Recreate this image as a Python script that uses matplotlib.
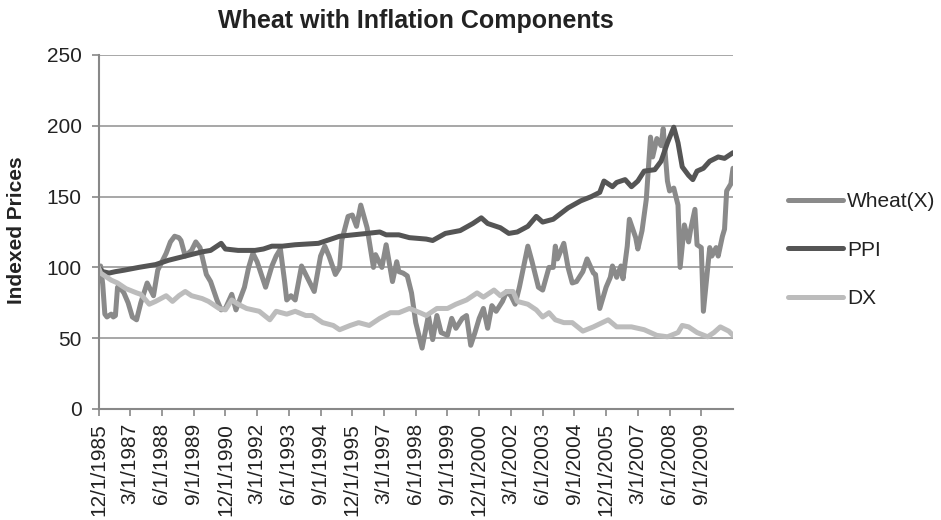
import pandas as pd
import matplotlib
matplotlib.use('Agg')
import matplotlib.pyplot as plt

# months counted from Dec 1985 (0) to Dec 2010 (300)
wheat_m = [0, 1, 2, 3, 4, 6, 7, 8, 9, 11, 12, 14, 16, 18, 20, 23, 26, 28, 30, 32,
           34, 36, 38, 39, 41, 44, 46, 48, 51, 53, 56, 58, 60, 63, 65, 67, 69, 71, 73, 75,
           77, 79, 82, 84, 86, 88, 89, 91, 93, 96, 99, 102, 105, 107, 109, 112, 114, 115, 118, 120,
           122, 124, 127, 130, 131, 134, 136, 139, 141, 142, 144, 146, 148, 150, 152, 153, 156, 158, 160, 162,
           165, 167, 169, 172, 174, 176, 178, 180, 182, 184, 186, 188, 191, 193, 195, 197, 199, 202, 203, 205,
           208, 210, 213, 215, 216, 217, 220, 222, 224, 226, 229, 231, 234, 235, 237, 240, 242, 243, 245, 247,
           248, 250, 251, 254, 255, 257, 259, 261, 262, 264, 266, 267, 269, 270, 272, 274, 275, 277, 279, 280,
           282, 283, 285, 286, 289, 290, 292, 293, 295, 296, 297, 299, 300]
wheat_v = [100, 101, 88, 67, 65, 67, 65, 66, 86, 84, 82, 75, 65, 63, 75, 89, 80, 98, 104, 110,
           118, 122, 121, 119, 108, 112, 118, 114, 95, 90, 77, 70, 71, 81, 70, 78, 86, 100, 110, 104,
           95, 86, 101, 108, 113, 90, 77, 80, 77, 101, 92, 83, 108, 115, 108, 95, 100, 119, 136, 137,
           129, 144, 128, 100, 109, 100, 116, 90, 104, 97, 96, 94, 82, 61, 49, 43, 66, 49, 66, 54,
           52, 64, 57, 64, 66, 45, 54, 64, 71, 57, 73, 69, 76, 83, 80, 74, 86, 108, 115, 104,
           86, 84, 100, 100, 115, 106, 117, 100, 89, 90, 97, 106, 96, 95, 71, 86, 93, 101, 93, 101,
           92, 115, 134, 121, 113, 126, 148, 192, 178, 191, 186, 198, 161, 154, 156, 144, 100, 130, 118, 127,
           141, 116, 114, 69, 114, 108, 114, 108, 122, 127, 154, 159, 170]

ppi_m = [0, 2, 5, 8, 12, 19, 27, 33, 41, 49, 53, 58, 60, 66, 74, 78, 82, 87, 93, 104,
         114, 127, 133, 136, 142, 147, 155, 158, 164, 171, 177, 181, 184, 190, 194, 198, 203, 207, 210, 215,
         222, 228, 233, 237, 239, 243, 245, 249, 252, 255, 258, 263, 266, 269, 272, 274, 276, 279, 281, 283,
         286, 289, 293, 296, 300]
ppi_v = [100, 97, 96, 97, 98, 100, 102, 105, 108, 111, 112, 117, 113, 112, 112, 113, 115, 115, 116, 117,
         122, 124, 125, 123, 123, 121, 120, 119, 124, 126, 131, 135, 131, 128, 124, 125, 129, 136, 132, 134,
         142, 147, 150, 153, 161, 157, 160, 162, 157, 161, 168, 169, 175, 188, 199, 188, 171, 165, 162, 168,
         170, 175, 178, 177, 181]

dx_m = [0, 1, 6, 9, 13, 18, 20, 24, 27, 32, 35, 38, 41, 44, 49, 52, 57, 60, 63, 66,
        70, 73, 76, 81, 84, 89, 93, 98, 101, 106, 111, 114, 119, 123, 128, 133, 138, 142, 147, 152,
        155, 160, 165, 169, 174, 179, 182, 187, 190, 193, 196, 198, 203, 207, 210, 213, 216, 220, 224, 229,
        234, 241, 245, 252, 258, 264, 269, 274, 276, 279, 283, 288, 291, 294, 298, 300]
dx_v = [100, 96, 91, 89, 85, 82, 81, 74, 76, 80, 76, 80, 83, 80, 78, 76, 71, 70, 77, 74,
        71, 70, 69, 63, 69, 67, 69, 66, 66, 61, 59, 56, 59, 61, 59, 64, 68, 68, 71, 68,
        66, 71, 71, 74, 77, 82, 79, 84, 80, 83, 83, 76, 74, 70, 65, 68, 63, 61, 61, 55,
        58, 63, 58, 58, 56, 52, 51, 54, 59, 58, 54, 51, 54, 58, 55, 52]

tick_dates = pd.date_range('1985-12-01', '2009-09-01', freq='15MS')
tick_labels = [f'{d.month}/1/{d.year}' for d in tick_dates]
tick_pos = [(d.year - 1985) * 12 + d.month - 12 for d in tick_dates]

plt.rcParams['font.family'] = ['Liberation Sans', 'DejaVu Sans']
plt.rcParams['text.color'] = '#222222'

W, H = 941, 520
fig = plt.figure(figsize=(W / 100, H / 100), dpi=100)
left, right, top, bottom = 98.5, 733, 55, 409
ax = fig.add_axes([left / W, (H - bottom) / H, (right - left) / W, (bottom - top) / H])

lw = 3.6
ax.plot(wheat_m, wheat_v, color='#8a8a8a', linewidth=lw, label='Wheat(X)',
        solid_joinstyle='round', solid_capstyle='round')
ax.plot(ppi_m, ppi_v, color='#555555', linewidth=lw, label='PPI',
        solid_joinstyle='round', solid_capstyle='round')
ax.plot(dx_m, dx_v, color='#bcbcbc', linewidth=lw, label='DX',
        solid_joinstyle='round', solid_capstyle='round')

ax.set_xlim(0, 300)
ax.set_ylim(0, 250)
ax.set_yticks(range(0, 251, 50))
ax.set_xticks(tick_pos)
ax.set_xticklabels(tick_labels, rotation=90, fontsize=15)
ax.tick_params(axis='y', labelsize=15, color='#888888', length=5, width=1.2, pad=7, labelcolor='#222222')
ax.tick_params(axis='x', color='#888888', length=5, width=1.2, pad=5, labelcolor='#222222')
ax.grid(axis='y', color='#a0a0a0', linewidth=1.3)
ax.set_axisbelow(True)
for s in ['top', 'right']:
    ax.spines[s].set_visible(False)
for s in ['left', 'bottom']:
    ax.spines[s].set_color('#888888')
    ax.spines[s].set_linewidth(1.5)

fig.text((left + right) / 2 / W, 1 - 28 / H, 'Wheat with Inflation Components',
         fontsize=18, fontweight='bold', ha='center', va='baseline')
fig.text(17 / W, 1 - 230 / H, 'Indexed Prices', fontsize=15, fontweight='bold',
         rotation=90, ha='center', va='center')

ax.legend(loc='center left', bbox_to_anchor=(788 / W, 1 - 250 / H), bbox_transform=fig.transFigure,
          frameon=False, fontsize=15, handlelength=2.65, handletextpad=0.2, labelspacing=1.42,
          borderpad=0, borderaxespad=0)

plt.savefig('out.png', dpi=100)
